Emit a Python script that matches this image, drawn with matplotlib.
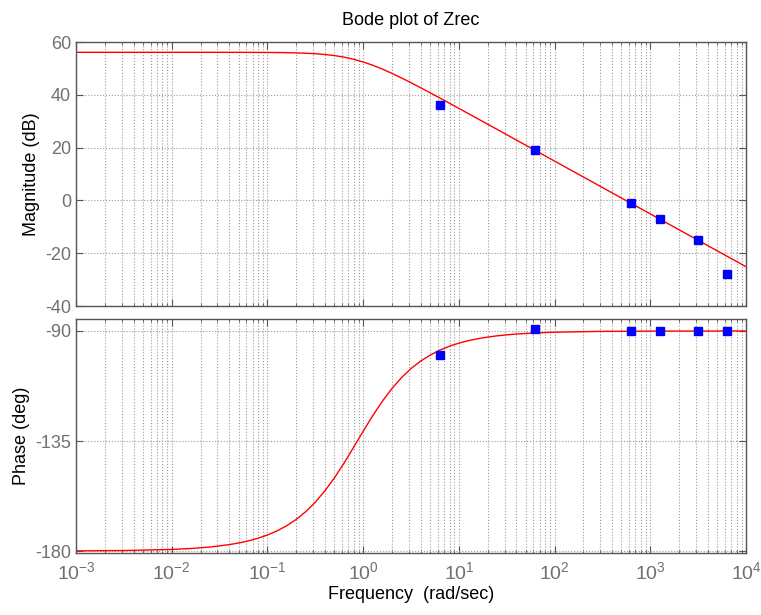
import numpy as np
import matplotlib
matplotlib.use("Agg")
import matplotlib.pyplot as plt
from matplotlib.ticker import LogLocator, NullFormatter, FixedLocator

plt.rcParams['font.family'] = ['Liberation Sans', 'DejaVu Sans']
plt.rcParams['axes.unicode_minus'] = False
plt.rcParams['mathtext.fontset'] = 'custom'
plt.rcParams['mathtext.rm'] = 'Liberation Sans'
plt.rcParams['mathtext.it'] = 'Liberation Sans'
plt.rcParams['mathtext.default'] = 'regular'

# model curve (rad/sec, dB, deg)
curve_w = [1e-3, 0.00316, 1e-2, 0.0158, 0.0251, 0.0398, 0.0501, 0.0631, 0.0794, 0.1,
           0.1259, 0.158, 0.1995, 0.251, 0.3162, 0.398, 0.5012, 0.631, 0.7943,
           1.0, 1.259, 1.585, 1.995, 2.512, 3.162, 3.981, 5.012, 6.31, 7.943,
           10.0, 12.59, 15.85, 19.95, 25.12, 31.62, 39.81, 63.1, 100.0,
           316.0, 1000.0, 1e4]
curve_mag = [56.1, 56.1, 56.1, 56.1, 56.1, 56.09, 56.09, 56.08, 56.06, 56.04,
             56.01, 55.96, 55.88, 55.75, 55.56, 55.27, 54.86, 54.27, 53.47,
             52.44, 51.20, 49.75, 48.14, 46.40, 44.57, 42.69, 40.76, 38.81, 36.84,
             34.86, 32.87, 30.88, 28.88, 26.89, 24.89, 22.89, 18.89, 14.89,
             4.89, -5.11, -25.11]
curve_phase = [-179.93, -179.79, -179.34, -178.96, -178.35, -177.38, -176.70, -175.85,
               -174.78, -173.44, -171.77, -169.7, -167.08, -163.9, -160.02, -155.4,
               -150.06, -144.05, -137.6, -131.03, -124.64, -118.76, -113.56, -109.1,
               -105.38, -102.33, -99.85, -97.85, -96.25, -94.97, -93.95, -93.14,
               -92.50, -91.98, -91.58, -91.25, -90.79, -90.5, -90.16, -90.05, -90.0]

# measured points
meas_w = [6.28, 62.8, 628, 1257, 3142, 6283]
meas_mag = [36.1, 19, -1, -7, -15, -28]
meas_phase = [-100, -89, -90.2, -90.2, -90.2, -90.2]

decades = [1e-3, 1e-2, 1e-1, 1e0, 1e1, 1e2, 1e3, 1e4]

fig = plt.figure(figsize=(7.61, 6.15), dpi=100)
ax1 = fig.add_axes([0.0999, 0.5024, 0.8804, 0.4293])
ax2 = fig.add_axes([0.0999, 0.1008, 0.8804, 0.3805])

tick_col = '#707070'
for ax in (ax1, ax2):
    ax.set_xscale('log')
    ax.set_xlim(1e-3, 1e4)
    ax.xaxis.set_major_locator(FixedLocator(decades))
    ax.xaxis.set_minor_locator(LogLocator(base=10, subs=np.arange(2, 10), numticks=20))
    ax.xaxis.set_minor_formatter(NullFormatter())
    ax.grid(True, which='major', linestyle=':', color='#9a9a9a', linewidth=0.8)
    ax.grid(True, which='minor', axis='x', linestyle=':', color='#9a9a9a', linewidth=0.8)
    ax.tick_params(which='both', direction='in', top=True, right=True,
                   colors='#555555', labelcolor=tick_col, labelsize=13, length=5)
    ax.tick_params(which='minor', length=2.5)
    for s in ax.spines.values():
        s.set_color('#555555')
        s.set_linewidth(1.0)
    ax.set_axisbelow(True)

ax2.set_xticklabels([r'$10^{%d}$' % p for p in range(-3, 5)])
ax2.tick_params(axis='x', labelsize=14, pad=6)

ax1.plot(curve_w, curve_mag, color='red', linewidth=1.0)
ax1.plot(meas_w, meas_mag, 's', color='blue', markersize=5.5)
ax1.set_ylim(-40, 60)
ax1.set_yticks([-40, -20, 0, 20, 40, 60])
ax1.tick_params(labelbottom=False)
ax1.set_ylabel('Magnitude (dB)', fontsize=13, color='black')
ax1.set_title('Bode plot of Zrec', fontsize=13, color='black', pad=12)

ax2.plot(curve_w, curve_phase, color='red', linewidth=1.0)
ax2.plot(meas_w, meas_phase, 's', color='blue', markersize=5.5)
ax2.set_ylim(-180.8, -85.1)
ax2.yaxis.set_major_locator(FixedLocator([-180, -135, -90]))
ax2.set_ylabel('Phase (deg)', fontsize=13, color='black')
ax2.set_xlabel('Frequency  (rad/sec)', fontsize=13, color='black', labelpad=2)

fig.savefig('out.png', dpi=100)
